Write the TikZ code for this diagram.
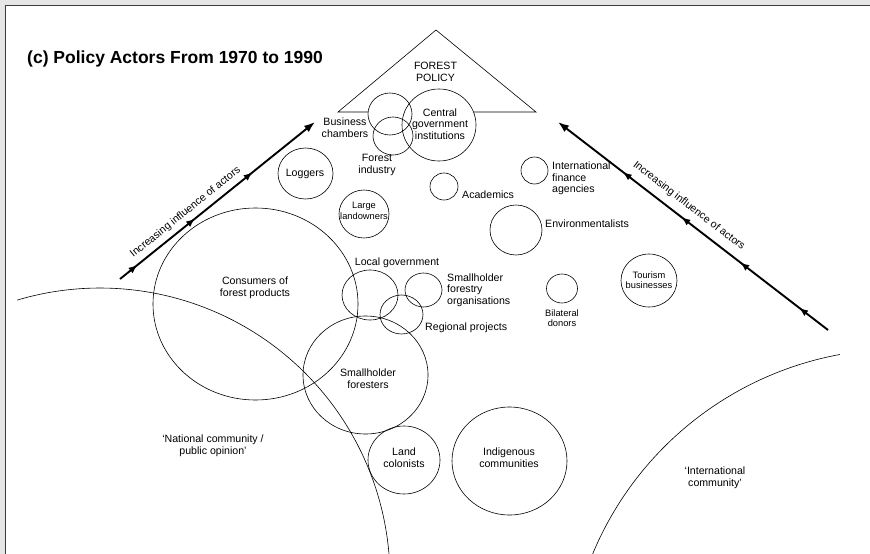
\documentclass[tikz,border=0pt]{standalone}
\usepackage{fontspec}
\setmainfont{Liberation Sans}
\usetikzlibrary{shapes.geometric,arrows.meta,decorations.markings}
\definecolor{framegray}{RGB}{230,230,230}
\definecolor{framedark}{RGB}{60,60,60}
\tikzset{midtip/.tip={Latex[length=9pt,width=7pt]}}
\begin{document}
\begin{tikzpicture}[x=1pt,y=-1pt,
  actor/.style={draw, ellipse, inner sep=0pt, line width=0.6pt},
  circ/.style 2 args={actor, minimum width=#1pt, minimum height=#2pt},
  lbl/.style={font=\fontsize{10.6}{11.6}\selectfont, align=center, inner sep=0pt},
  lbll/.style={font=\fontsize{10.6}{11.6}\selectfont, align=left, inner sep=0pt, anchor=west},
  smalllbl/.style={font=\fontsize{9.3}{10.6}\selectfont, align=center, inner sep=0pt},
  influence/.style={line width=1.9pt, -{Latex[length=11pt,width=8pt]}, postaction={decorate}},
]
\useasboundingbox (0,0) rectangle (870,554);
\fill[framegray] (0,0) rectangle (870,554);
\fill[white] (6,6) rectangle (870,554);
\draw[framedark, line width=1.5pt] (5.5,554) -- (5.5,5.5) -- (870,5.5);

% title
\node[anchor=base west, inner sep=0pt, font=\bfseries\fontsize{17.5}{20}\selectfont] (title) at (27,63) {(c) Policy Actors From 1970 to 1990};

% circles
\node[circ={44}{42}] (bizC) at (390,114) {};
\node[circ={40}{38}] (forestC) at (393,136) {};
\node[circ={74}{72}] (centralC) at (439,125) {};
\node[circ={55}{51}] (loggersC) at (305.5,173.5) {};
\node[circ={50}{48}] (largeC) at (364,214) {};
\node[circ={28}{27}] (acadC) at (444,186.5) {};
\node[circ={27}{27}] (ifaC) at (534.5,170.5) {};
\node[circ={52}{50}] (envC) at (516,230) {};
\node[circ={205}{192}] (consC) at (255.5,304) {};
\node[circ={56}{50}] (localC) at (370,295) {};
\node[circ={37}{34}] (sfoC) at (423.5,290) {};
\node[circ={43}{39}] (regC) at (401.5,314.5) {};
\node[circ={31}{29}] (bilC) at (562,288.5) {};
\node[circ={56}{53}] (tourC) at (649,280.5) {};
\node[circ={125}{118}] (sfC) at (365.5,375) {};
\node[circ={72}{68}] (landC) at (404,460) {};
\node[circ={115}{108}] (indC) at (509.5,461) {};

% forest policy triangle
\coordinate (tl) at (338,112);
\coordinate (apex) at (436,30);
\coordinate (tr) at (536,112);
\draw[line width=0.6pt] (tl -| bizC.175) -- (tl) -- (apex) -- (tr) -- (tr -| centralC.20);
\node[lbl] (fpL) at (435.5,72) {FOREST\\POLICY};

% community arcs
\draw[line width=0.6pt] ([shift={(-106.6:290)}]100,578) arc[start angle=-106.6, end angle=-4.7, radius=290];
\draw[line width=0.6pt] ([shift={(-100.4:333)}]900,682) arc[start angle=-100.4, end angle=-157.4, radius=333];

% influence arrows
\coordinate (L0) at (120,279);
\coordinate (L1) at (315,122);
\coordinate (R0) at (828,330);
\coordinate (R1) at (558,122);
\draw[influence, decoration={markings,
   mark=at position 0.09 with {\arrow{midtip}},
   mark=at position 0.385 with {\arrow{midtip}},
   mark=at position 0.68 with {\arrow{midtip}}}] (L0) -- (L1);
\draw[influence, decoration={markings,
   mark=at position 0.107 with {\arrow{midtip}},
   mark=at position 0.325 with {\arrow{midtip}},
   mark=at position 0.543 with {\arrow{midtip}},
   mark=at position 0.76 with {\arrow{midtip}}}] (R0) -- (R1);
\node[lbl, rotate=38.8] (inflL) at (185.5,212.5) {Increasing influence of actors};
\node[lbl, rotate=-37.6] (inflR) at (689,206) {Increasing influence of actors};

% labels
\node[lbl] (bizL) at (345,127.5) {Business\\chambers};
\node[lbl] (forestL) at (377,165) {Forest\\industry};
\node[lbl] (centralL) at (440,124) {Central\\government\\institutions};
\node[lbl] (loggersL) at (305,174) {Loggers};
\node[smalllbl] (largeL) at (364,211) {Large\\landowners};
\node[lbll] (acadL) at (462,195) {Academics};
\node[lbll] (ifaL) at (552,178.5) {International\\finance\\agencies};
\node[lbll] (envL) at (545,224) {Environmentalists};
\node[lbl] (consL) at (255,288) {Consumers of\\forest products};
\node[lbl] (localL) at (397,263) {Local government};
\node[lbll] (sfoL) at (447,290) {Smallholder\\forestry\\organisations};
\node[lbll] (regL) at (425,328) {Regional projects};
\node[smalllbl] (bilL) at (562,318) {Bilateral\\donors};
\node[smalllbl] (tourL) at (649,280) {Tourism\\businesses};
\node[lbl] (sfL) at (368,379) {Smallholder\\foresters};
\node[lbl] (landL) at (404,458) {Land\\colonists};
\node[lbl] (indL) at (509,458) {Indigenous\\communities};
\node[lbl] (natL) at (213,446) {‘National community /\\public opinion’};
\node[lbl] (intL) at (715,478) {‘International\\community’};
\end{tikzpicture}
\end{document}
